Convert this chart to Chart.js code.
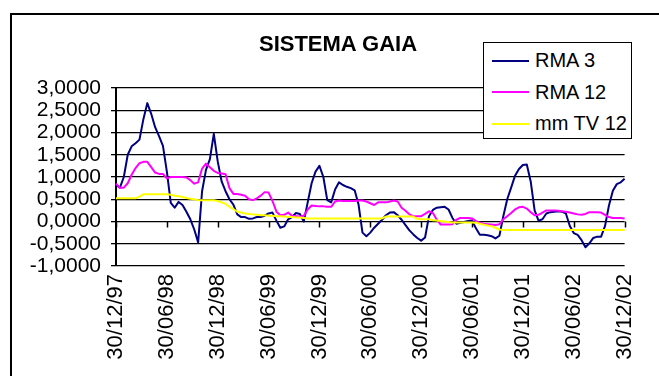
<!DOCTYPE html>
<html>
<head>
<meta charset="utf-8">
<title>SISTEMA GAIA</title>
<script src="https://cdn.jsdelivr.net/npm/chart.js@4.4.1/dist/chart.umd.min.js"></script>
<style>
  html, body { margin: 0; padding: 0; width: 659px; height: 376px; overflow: hidden; background: #fff; }
  body { position: relative; font-family: "Liberation Sans", Arial, sans-serif; color: #000; }
  #frame { position: absolute; left: 10px; top: 13px; width: 720px; height: 420px; border: 2px solid #000; box-sizing: border-box; }
  #wrap { position: absolute; left: 0; top: 0; width: 659px; height: 376px; }
  #title { position: absolute; left: 0; width: 676px; top: 33px; text-align: center; font-weight: bold; font-size: 22px; line-height: 22px; white-space: nowrap; }
  #legend { position: absolute; left: 483px; top: 42px; width: 149px; height: 97px; border: 1px solid #000; background: #fff; box-sizing: border-box; padding-top: 2px; }
  .item { height: 31.5px; display: flex; align-items: center; font-size: 20px; white-space: nowrap; }
  .swatch { width: 37px; height: 2px; margin-left: 8px; margin-right: 6px; }
</style>
</head>
<body>
<div id="frame"></div>
<div id="wrap"><canvas id="chart" width="659" height="376"></canvas></div>
<div id="title">SISTEMA GAIA</div>
<div id="legend"></div>
<script>
// Date labels shown on the horizontal axis (one every half year)
const dateTicks = ["30/12/97", "30/06/98", "30/12/98", "30/06/99", "30/12/99", "30/06/00",
                   "30/12/00", "30/06/01", "30/12/01", "30/06/02", "30/12/02"];
// Observations between two consecutive date labels (fortnightly readings)
const STEP = 13;

const seriesNames = ["RMA 3", "RMA 12", "mm TV 12"];

const rma3 = [
  0.82, 0.76, 1.00, 1.50, 1.69, 1.76, 1.84, 2.30, 2.66, 2.42, 2.12, 1.92, 1.70,
  1.12, 0.42, 0.31, 0.44, 0.37, 0.22, 0.05, -0.18, -0.47, 0.68, 1.16, 1.40, 1.97,
  1.35, 0.90, 0.68, 0.50, 0.38, 0.16, 0.10, 0.10, 0.06, 0.07, 0.10, 0.10, 0.13,
  0.18, 0.20, 0.02, -0.14, -0.11, 0.05, 0.10, 0.19, 0.17, 0.00, 0.43, 0.86, 1.12,
  1.25, 1.00, 0.48, 0.43, 0.72, 0.88, 0.82, 0.78, 0.75, 0.70, 0.38, -0.25, -0.33,
  -0.25, -0.14, -0.05, 0.04, 0.14, 0.20, 0.21, 0.14, 0.04, -0.08, -0.20, -0.29, -0.37,
  -0.43, -0.36, 0.12, 0.26, 0.31, 0.32, 0.33, 0.27, 0.08, -0.05, -0.03, -0.01, 0.01,
  0.02, -0.15, -0.30, -0.30, -0.31, -0.33, -0.38, -0.32, 0.12, 0.50, 0.76, 1.03, 1.18,
  1.27, 1.28, 0.90, 0.25, 0.02, 0.05, 0.18, 0.21, 0.22, 0.23, 0.22, 0.18, -0.10,
  -0.26, -0.30, -0.42, -0.58, -0.49, -0.37, -0.34, -0.34, -0.10, 0.36, 0.69, 0.84, 0.88,
  0.96
];

const rma12 = [
  0.85, 0.76, 0.76, 0.86, 1.05, 1.20, 1.31, 1.34, 1.34, 1.22, 1.10, 1.07, 1.07,
  0.97, 1.00, 1.00, 1.00, 1.00, 0.99, 0.93, 0.85, 0.88, 1.19, 1.30, 1.22, 1.14,
  1.09, 1.08, 1.06, 0.75, 0.62, 0.62, 0.60, 0.58, 0.50, 0.48, 0.52, 0.58, 0.66,
  0.65, 0.46, 0.22, 0.14, 0.15, 0.20, 0.13, 0.12, 0.11, 0.13, 0.27, 0.36, 0.35,
  0.34, 0.34, 0.33, 0.33, 0.45, 0.47, 0.46, 0.46, 0.46, 0.46, 0.47, 0.47, 0.45,
  0.41, 0.37, 0.43, 0.43, 0.43, 0.45, 0.47, 0.45, 0.31, 0.24, 0.16, 0.12, 0.12,
  0.12, 0.17, 0.23, 0.19, 0.04, -0.07, -0.07, -0.07, -0.06, 0.04, 0.08, 0.08, 0.08,
  0.07, 0.01, -0.03, -0.05, -0.06, -0.07, -0.08, -0.06, 0.05, 0.12, 0.19, 0.27, 0.32,
  0.33, 0.29, 0.21, 0.14, 0.15, 0.20, 0.25, 0.25, 0.25, 0.24, 0.23, 0.22, 0.20,
  0.18, 0.16, 0.15, 0.17, 0.21, 0.21, 0.21, 0.20, 0.15, 0.10, 0.08, 0.08, 0.08,
  0.07
];

const mmTv12 = [
  0.52, 0.52, 0.52, 0.52, 0.52, 0.52, 0.56, 0.61, 0.61, 0.61, 0.61, 0.61, 0.61,
  0.61, 0.60, 0.58, 0.57, 0.55, 0.53, 0.51, 0.50, 0.48, 0.48, 0.48, 0.48, 0.48,
  0.46, 0.43, 0.40, 0.33, 0.28, 0.22, 0.20, 0.18, 0.17, 0.16, 0.15, 0.14, 0.14,
  0.13, 0.13, 0.12, 0.12, 0.11, 0.10, 0.10, 0.09, 0.09, 0.08, 0.07, 0.07, 0.07,
  0.07, 0.07, 0.07, 0.07, 0.07, 0.07, 0.07, 0.07, 0.07, 0.07, 0.07, 0.07, 0.07,
  0.07, 0.07, 0.07, 0.07, 0.11, 0.11, 0.11, 0.11, 0.11, 0.11, 0.11, 0.11, 0.06,
  0.05, 0.05, 0.05, 0.03, 0.02, 0.01, 0.00, -0.01, -0.02, -0.02, -0.02, -0.02, -0.02,
  -0.02, -0.03, -0.05, -0.07, -0.09, -0.11, -0.14, -0.18, -0.19, -0.19, -0.19, -0.19, -0.19,
  -0.19, -0.19, -0.19, -0.19, -0.19, -0.19, -0.19, -0.19, -0.19, -0.19, -0.19, -0.19, -0.19,
  -0.19, -0.19, -0.19, -0.19, -0.19, -0.19, -0.19, -0.19, -0.19, -0.19, -0.19, -0.19, -0.19,
  -0.19
];

const seriesColors = ["#000080", "#FF00FF", "#FFFF00"];

// Category labels: a date every STEP observations, blank otherwise
const labels = rma3.map((_, i) => (i % STEP === 0 ? dateTicks[i / STEP] : ""));

const FONT = "'Liberation Sans', Arial, sans-serif";

// Short tick marks hanging below the zero line at each labelled date
const zeroLineTicks = {
  id: "zeroLineTicks",
  beforeDatasetsDraw(chart) {
    const { ctx, scales: { x, y } } = chart;
    const y0 = y.getPixelForValue(0);
    ctx.save();
    ctx.strokeStyle = "#000";
    ctx.lineWidth = 1.5;
    for (let i = 0; i < labels.length; i += STEP) {
      const px = Math.round(x.getPixelForValue(i)) + 0.5;
      ctx.beginPath();
      ctx.moveTo(px, y0);
      ctx.lineTo(px, y0 + 6);
      ctx.stroke();
    }
    ctx.restore();
  }
};

const chart = new Chart(document.getElementById("chart"), {
  type: "line",
  data: {
    labels: labels,
    datasets: [
      { label: seriesNames[0], data: rma3, borderColor: seriesColors[0] },
      { label: seriesNames[1], data: rma12, borderColor: seriesColors[1] },
      { label: seriesNames[2], data: mmTv12, borderColor: seriesColors[2] }
    ].reverse()
  },
  options: {
    responsive: false,
    animation: false,
    devicePixelRatio: 1,
    layout: { padding: { top: 88, left: 20, right: 24.5, bottom: 0 } },
    elements: {
      line: { borderWidth: 2, tension: 0, borderJoinStyle: "round" },
      point: { radius: 0, hoverRadius: 0 }
    },
    plugins: {
      legend: { display: false },
      title: { display: false },
      tooltip: { enabled: false }
    },
    scales: {
      x: {
        grid: { display: false, drawTicks: false },
        border: { display: false },
        ticks: {
          autoSkip: false,
          minRotation: 90,
          maxRotation: 90,
          padding: 8,
          color: "#000",
          font: { family: FONT, size: 22 }
        },
        afterFit(scale) { scale.height = 110; }
      },
      y: {
        min: -1,
        max: 3,
        ticks: {
          stepSize: 0.5,
          autoSkip: false,
          padding: 10,
          color: "#000",
          font: { family: FONT, size: 21 },
          callback: (v) => v.toFixed(4).replace(".", ",")
        },
        grid: { color: "#000", lineWidth: 1.3, tickLength: 5, drawTicks: true },
        border: { color: "#000", width: 2 },
        afterFit(scale) { scale.width = 96; }
      }
    }
  },
  plugins: [zeroLineTicks]
});

// Legend box built from the chart's own datasets
const legendEl = document.getElementById("legend");
seriesNames.forEach((name, k) => {
  const row = document.createElement("div");
  row.className = "item";
  const sw = document.createElement("span");
  sw.className = "swatch";
  sw.style.background = seriesColors[k];
  const tx = document.createElement("span");
  tx.textContent = name;
  row.appendChild(sw);
  row.appendChild(tx);
  legendEl.appendChild(row);
});
</script>
</body>
</html>
